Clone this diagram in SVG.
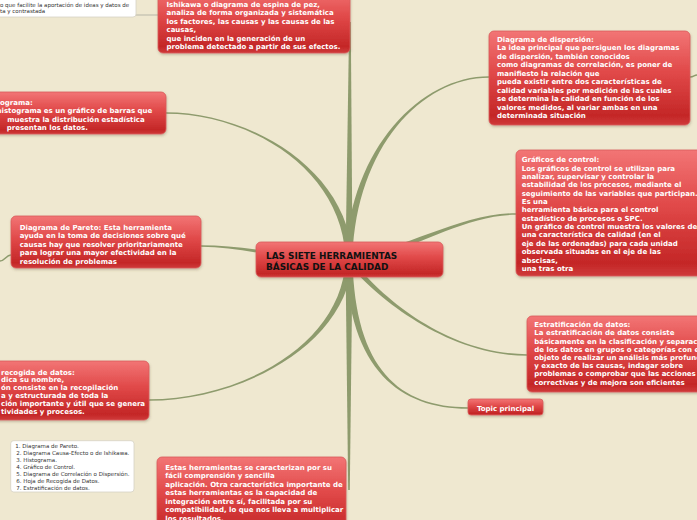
<svg xmlns="http://www.w3.org/2000/svg" width="697" height="520" viewBox="0 0 697 520">
<defs>
<linearGradient id="rg" x1="0" y1="0" x2="0" y2="1">
<stop offset="0" stop-color="#f27575"/>
<stop offset="0.45" stop-color="#e04848"/>
<stop offset="0.9" stop-color="#c42727"/>
<stop offset="1" stop-color="#cf3a3a"/>
</linearGradient>
<filter id="sh" x="-10%" y="-10%" width="120%" height="130%">
<feDropShadow dx="0.5" dy="1.5" stdDeviation="1.2" flood-color="#5a4a30" flood-opacity="0.3"/>
</filter>
<style>
.box{fill:url(#rg);stroke:#d95a5a;stroke-width:0.8;filter:url(#sh)}
.note{fill:#ffffff;stroke:#d6d2c4;stroke-width:0.8}
.t{font-family:"DejaVu Sans",Verdana,sans-serif;font-weight:bold;font-size:7px;fill:#ffffff}
.c{font-family:"DejaVu Sans",Verdana,sans-serif;font-weight:bold;font-size:8.9px;fill:#111111}
.n{font-family:"DejaVu Sans",Verdana,sans-serif;font-size:5.5px;fill:#333333}
.br{fill:#8e9b6d}
.thin{fill:none;stroke:#8e9b6d;stroke-width:1.5}
.nl{fill:none;stroke:#a9a9a0;stroke-width:0.8}
</style>
</defs>
<rect x="0" y="0" width="697" height="520" fill="#efe8d0"/>

<g id="connectors">
<path class="br" d="M345.5 260 L352.5 260 L350.8 22 L349.2 22 Z"/>
<path class="br" d="M352.5 260 C350 170 250 112.2 166 112.2 L166 113.8 C250 113.8 344 170 345.5 260 Z"/>
<path class="br" d="M349 256.5 C300 259 250 245.2 201 245.2 L201 246.8 C250 246.8 300 265 349 263.5 Z"/>
<path class="br" d="M352.5 260 C348 345 240 400.8 149 400.8 L149 399.2 C240 399.2 342 345 345.5 260 Z"/>
<path class="br" d="M345.5 260 L352.5 260 L349.8 490 L348.2 490 Z"/>
<path class="br" d="M345.5 260 C349 150 420 76.2 489 76.2 L489 77.8 C420 77.8 355 150 352.5 260 Z"/>
<path class="br" d="M349 256.5 C400 252 460 213.2 516 213.2 L516 214.8 C460 214.8 400 258 349 263.5 Z"/>
<path class="br" d="M345.5 260 C377 300 450 355.8 527 355.8 L527 354.2 C450 354.2 383 300 352.5 260 Z"/>
<path class="br" d="M345.5 260 C349 370 400 408.8 468 408.8 L468 407.2 C400 407.2 355 370 352.5 260 Z"/>
<path class="thin" d="M690 77 C694 77 694 75 697 75"/>
<path class="thin" d="M11 255 C6 255 5 261 0 261"/>
<path class="nl" d="M136 15 L158 15"/>
</g>

<g id="note-top">
<rect class="note" x="-5" y="-5" width="141" height="22" rx="3"/>
<text class="n" x="0" y="7">o que facilite la aportación de ideas y datos de</text>
<text class="n" x="0" y="13.2">ta y contrastada</text>
</g>

<g id="node-ishikawa">
<rect class="box" x="158" y="-12" width="192" height="65" rx="5"/>
<text class="t" x="166.5" y="7">Ishikawa o diagrama de espina de pez,</text>
<text class="t" x="166.5" y="15.4">analiza de forma organizada y sistemática</text>
<text class="t" x="166.5" y="23.8">los factores, las causas y las causas de las</text>
<text class="t" x="166.5" y="32.2">causas,</text>
<text class="t" x="166.5" y="40.6">que inciden en la generación de un</text>
<text class="t" x="166.5" y="49">problema detectado a partir de sus efectos.</text>
</g>

<g id="node-histograma">
<rect class="box" x="-10" y="92" width="176" height="42" rx="5"/>
<text class="t" x="0" y="105">ograma:</text>
<text class="t" x="-3.5" y="113.4">histograma es un gráfico de barras que</text>
<text class="t" x="7.3" y="121.8">muestra la distribución estadística</text>
<text class="t" x="6.7" y="130.2">presentan los datos.</text>
</g>

<g id="node-pareto">
<rect class="box" x="11" y="216" width="190" height="52" rx="5"/>
<text class="t" x="19.7" y="230">Diagrama de Pareto: Esta herramienta</text>
<text class="t" x="19.7" y="238.4">ayuda en la toma de decisiones sobre qué</text>
<text class="t" x="19.7" y="246.8">causas hay que resolver prioritariamente</text>
<text class="t" x="19.7" y="255.2">para lograr una mayor efectividad en la</text>
<text class="t" x="19.7" y="263.6">resolución de problemas</text>
</g>

<g id="node-center">
<rect class="box" x="256" y="242" width="187" height="35" rx="5"/>
<text class="c" x="266" y="258.6">LAS SIETE HERRAMIENTAS</text>
<text class="c" x="266" y="270.3">BÁSICAS DE LA CALIDAD</text>
</g>

<g id="node-dispersion">
<rect class="box" x="489" y="31" width="201" height="94" rx="5"/>
<text class="t" x="497" y="41.8">Diagrama de dispersión:</text>
<text class="t" x="497" y="50.3">La idea principal que persiguen los diagramas</text>
<text class="t" x="497" y="58.8">de dispersión, también conocidos</text>
<text class="t" x="497" y="67.3">como diagramas de correlación, es poner de</text>
<text class="t" x="497" y="75.8">manifiesto la relación que</text>
<text class="t" x="497" y="84.3">pueda existir entre dos características de</text>
<text class="t" x="497" y="92.8">calidad variables por medición de las cuales</text>
<text class="t" x="497" y="101.3">se determina la calidad en función de los</text>
<text class="t" x="497" y="109.8">valores medidos, al variar ambas en una</text>
<text class="t" x="497" y="118.3">determinada situación</text>
</g>

<g id="node-graficos">
<rect class="box" x="516" y="150" width="200" height="126" rx="5"/>
<text class="t" x="521.7" y="162.3">Gráficos de control:</text>
<text class="t" x="521.7" y="170.65">Los gráficos de control se utilizan para</text>
<text class="t" x="521.7" y="179">analizar, supervisar y controlar la</text>
<text class="t" x="521.7" y="187.35">estabilidad de los procesos, mediante el</text>
<text class="t" x="521.7" y="195.7">seguimiento de las variables que participan.</text>
<text class="t" x="521.7" y="204.05">Es una</text>
<text class="t" x="521.7" y="212.4">herramienta básica para el control</text>
<text class="t" x="521.7" y="220.75">estadístico de procesos o SPC.</text>
<text class="t" x="521.7" y="229.1">Un gráfico de control muestra los valores de</text>
<text class="t" x="521.7" y="237.45">una característica de calidad (en el</text>
<text class="t" x="521.7" y="245.8">eje de las ordenadas) para cada unidad</text>
<text class="t" x="521.7" y="254.15">observada situadas en el eje de las</text>
<text class="t" x="521.7" y="262.5">abscisas,</text>
<text class="t" x="521.7" y="270.85">una tras otra</text>
</g>

<g id="node-estratificacion">
<rect class="box" x="527" y="316" width="180" height="76" rx="5"/>
<text class="t" x="534.3" y="327.2">Estratificación de datos:</text>
<text class="t" x="534.3" y="335.4">La estratificación de datos consiste</text>
<text class="t" x="534.3" y="343.6">básicamente en la clasificación y separación</text>
<text class="t" x="534.3" y="351.8">de los datos en grupos o categorías con el</text>
<text class="t" x="534.3" y="360">objeto de realizar un análisis más profundo</text>
<text class="t" x="534.3" y="368.2">y exacto de las causas, indagar sobre</text>
<text class="t" x="534.3" y="376.4">problemas o comprobar que las acciones</text>
<text class="t" x="534.3" y="384.6">correctivas y de mejora son eficientes</text>
</g>

<g id="node-topic">
<rect class="box" x="468" y="399" width="75" height="16" rx="3"/>
<text class="t" x="505.5" y="411.3" text-anchor="middle">Topic principal</text>
</g>

<g id="node-recogida">
<rect class="box" x="-10" y="361" width="159" height="59" rx="5"/>
<text class="t" x="1" y="374.6">recogida de datos:</text>
<text class="t" x="1" y="382.45">dica su nombre,</text>
<text class="t" x="1" y="390.3">ón consiste en la recopilación</text>
<text class="t" x="1" y="398.15">a y estructurada de toda la</text>
<text class="t" x="1" y="406">ción importante y útil que se genera</text>
<text class="t" x="1" y="413.85">tividades y procesos.</text>
</g>

<g id="note-list">
<rect class="note" x="10.7" y="440.7" width="123.3" height="51.3" rx="3"/>
<text class="n" x="15.3" y="448">1. Diagrama de Pareto.</text>
<text class="n" x="16.3" y="455">2. Diagrama Causa-Efecto o de Ishikawa.</text>
<text class="n" x="16.3" y="462">3. Histograma.</text>
<text class="n" x="16.3" y="469">4. Gráfico de Control.</text>
<text class="n" x="16.3" y="476">5. Diagrama de Correlación o Dispersión.</text>
<text class="n" x="16.3" y="483">6. Hoja de Recogida de Datos.</text>
<text class="n" x="16.3" y="490">7. Estratificación de datos.</text>
</g>

<g id="node-bottom">
<rect class="box" x="157" y="457" width="189" height="80" rx="5"/>
<text class="t" x="165.3" y="469.5">Estas herramientas se caracterizan por su</text>
<text class="t" x="165.3" y="478">fácil comprensión y sencilla</text>
<text class="t" x="165.3" y="486.5">aplicación. Otra característica importante de</text>
<text class="t" x="165.3" y="495">estas herramientas es la capacidad de</text>
<text class="t" x="165.3" y="503.5">integración entre sí, facilitada por su</text>
<text class="t" x="165.3" y="512">compatibilidad, lo que nos lleva a multiplicar</text>
<text class="t" x="165.3" y="520.5">los resultados.</text>
</g>
</svg>
